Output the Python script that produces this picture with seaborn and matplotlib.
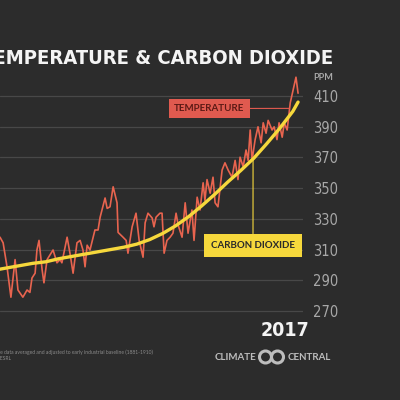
import numpy as np
import pandas as pd
import matplotlib
matplotlib.use("Agg")
import matplotlib.pyplot as plt
import seaborn as sns
from matplotlib.patches import Ellipse

# --- data ---
temp_years = [1902.4, 1903.6, 1905.1, 1906.6, 1908.2, 1909.3, 1911.2, 1912.8, 1913.9, 1914.7,
              1915.9, 1916.6, 1917.4, 1918.6, 1919.3, 1920.5, 1922.8, 1924.3, 1925.5, 1926.2,
              1928.2, 1929.3, 1930.5, 1932.0, 1933.2, 1934.3, 1935.1, 1935.9, 1937.0, 1938.9,
              1940.1, 1940.9, 1942.8, 1943.6, 1944.7, 1945.9, 1947.4, 1947.8, 1949.7, 1950.9,
              1951.6, 1953.2, 1954.7, 1955.9, 1957.4, 1958.2, 1959.3, 1960.9, 1961.6, 1962.4,
              1963.9, 1964.7, 1965.5, 1966.6, 1967.8, 1968.9, 1970.1, 1970.9, 1972.4, 1973.6,
              1974.7, 1976.2, 1977.0, 1978.2, 1979.3, 1980.5, 1981.2, 1982.0, 1983.2, 1984.3,
              1985.1, 1986.2, 1987.8, 1988.9, 1990.1, 1991.6, 1992.8, 1993.9, 1994.7, 1995.9,
              1997.0, 1997.8, 1998.6, 1999.3, 2000.5, 2001.6, 2002.8, 2003.6, 2004.7, 2005.5,
              2007.0, 2007.8, 2008.9, 2009.7, 2010.9, 2011.7, 2012.8, 2014.0, 2015.1, 2016.2,
              2017.0]
temp_anomaly = [0.16, 0.09, -0.21, -0.59, -0.12, -0.50, -0.59, -0.50, -0.53, -0.35,
                -0.29, 0.00, 0.12, -0.25, -0.41, -0.12, 0.00, -0.16, -0.12, -0.16,
                0.16, -0.04, -0.29, 0.09, 0.12, 0.00, -0.21, 0.06, 0.00, 0.25,
                0.25, 0.41, 0.65, 0.52, 0.54, 0.79, 0.59, 0.22, 0.16, 0.12,
                -0.04, 0.29, 0.46, 0.12, -0.09, 0.34, 0.46, 0.40, 0.29, 0.41,
                0.46, 0.46, -0.04, 0.12, 0.16, 0.21, 0.46, 0.31, 0.16, 0.59,
                0.21, 0.50, 0.12, 0.66, 0.50, 0.84, 0.62, 0.88, 0.71, 0.91,
                0.59, 0.54, 1.00, 1.09, 1.00, 0.91, 1.12, 0.88, 1.16, 1.04,
                1.25, 1.12, 1.50, 1.12, 1.38, 1.54, 1.34, 1.59, 1.46, 1.62,
                1.50, 1.54, 1.38, 1.59, 1.41, 1.59, 1.50, 1.84, 2.00, 2.16,
                1.96]

co2_years = [1900, 1905, 1910, 1915, 1920, 1925, 1930, 1935, 1940, 1945, 1950, 1955,
             1960, 1965, 1970, 1975, 1980, 1985, 1990, 1995, 2000, 2005, 2010, 2015, 2017]
co2_ppm = [296.5, 298, 299.5, 301, 302, 304, 305.5, 307, 308.5, 310, 311.5, 313.5,
           316.5, 320.5, 325.5, 331.5, 338.5, 346, 354, 361.5, 369.5, 379, 389, 400, 406]

ppm_ticks = [270, 290, 310, 330, 350, 370, 390, 410]

BG = "#2c2c2c"
RED = "#e8644f"
YELLOW = "#f6d83c"
GRAY = "#a8a8a8"
HEAD = ["Roboto", "DejaVu Sans"]
BODY = ["Lato", "DejaVu Sans"]

sns.set_theme(style="dark", rc={"axes.facecolor": BG, "figure.facecolor": BG})
plt.rcParams["font.family"] = HEAD

fig = plt.figure(figsize=(4, 4), dpi=100)
ax = fig.add_axes([0, 0.2, 0.7575, 0.625])
ax.set_xlim(1902.4, 2018.9)
ax.set_ylim(264.1, 426.9)

# temperature on its own (hidden) scale, drawn below the CO2 curve
axt = ax.twinx()
axt.set_ylim(-0.875, 2.25)
axt.axis("off")
temp_df = pd.DataFrame({"year": temp_years, "anomaly": temp_anomaly})
sns.lineplot(data=temp_df, x="year", y="anomaly", ax=axt, color=RED, linewidth=1.2)
axt.set_xlim(1902.4, 2018.9)

axc = ax.twinx()
axc.set_ylim(264.1, 426.9)
axc.axis("off")
co2_df = pd.DataFrame({"year": co2_years, "ppm": co2_ppm})
sns.lineplot(data=co2_df, x="year", y="ppm", ax=axc, color=YELLOW, linewidth=2.4)
axc.set_xlim(1902.4, 2018.9)

# ppm axis: ticks on the right, grid across
ax.set_yticks(ppm_ticks)
ax.set_xticks([])
ax.tick_params(axis="y", left=False, right=False, labelleft=False, labelright=True,
               length=0, pad=7.2, labelsize=10.5, labelcolor=GRAY)
for lab in ax.get_yticklabels():
    lab.set_family(["DejaVu Sans"])
    lab.set_stretch("condensed")
ax.grid(axis="y", color="#484848", linewidth=0.9)
for s in ax.spines.values():
    s.set_visible(False)
ax.set_xlabel("")
ax.set_ylabel("")

# labels with leader lines
axt.annotate("TEMPERATURE", xy=(2013.6, 1.77), xycoords="data",
             xytext=(209.5, 291.5), textcoords="figure pixels",
             ha="center", va="center", fontsize=7, color="#5c1a15",
             family=BODY, fontweight="bold",
             bbox=dict(boxstyle="square,pad=0.55", fc="#e05a4f", ec="none"),
             arrowprops=dict(arrowstyle="-", color="#e05a4f", lw=0.8, shrinkA=0, shrinkB=0))
axc.annotate("CARBON DIOXIDE", xy=(1999.7, 368.5), xycoords="data",
             xytext=(253, 154.5), textcoords="figure pixels",
             ha="center", va="center", fontsize=7, color="#2a2a2a",
             family=BODY, fontweight="bold",
             bbox=dict(boxstyle="square,pad=0.75", fc=YELLOW, ec="none"),
             arrowprops=dict(arrowstyle="-", color=YELLOW, lw=0.8, shrinkA=0, shrinkB=0))

# title and surrounding text
fig.text(333 / 400, 1 - 64 / 400, "TEMPERATURE & CARBON DIOXIDE", ha="right", va="baseline",
         color="#f4f4f4", fontsize=14.5, fontweight="bold", family=["DejaVu Sans"],
         fontstretch="condensed")
fig.text(313 / 400, 1 - 77 / 400, "PPM", ha="left", va="center", color=GRAY, fontsize=6.5,
         family=BODY, fontweight="bold")
fig.text(285 / 400, 1 - 330 / 400, "2017", ha="center", va="center", color="#f4f4f4",
         fontsize=14, fontweight="bold", family=["DejaVu Sans"], fontstretch="condensed")

fig.text(153 / 400, 1 - 352 / 400,
         "Temperature data averaged and adjusted to early industrial baseline (1881-1910)",
         ha="right", va="center", color="#8a8a8a", fontsize=3.6, family=BODY)
fig.text(11 / 400, 1 - 358 / 400, "Data: NASA, NOAA/ESRL", ha="right", va="center",
         color="#8a8a8a", fontsize=3.6, family=BODY)

# logo
fig.text(256 / 400, 1 - 357 / 400, "CLIMATE", ha="right", va="center", color="#bdbdbd",
         fontsize=7, fontweight="bold", family=BODY)
fig.text(288 / 400, 1 - 357 / 400, "CENTRAL", ha="left", va="center", color="#bdbdbd",
         fontsize=7, fontweight="bold", family=BODY)
for cx in (265.5, 277.5):
    fig.add_artist(Ellipse((cx / 400, 1 - 357 / 400), 12 / 400, 12 / 400,
                           transform=fig.transFigure, fill=False, ec="#bdbdbd", lw=2.2))

fig.savefig("out.png", dpi=100, facecolor=BG)
